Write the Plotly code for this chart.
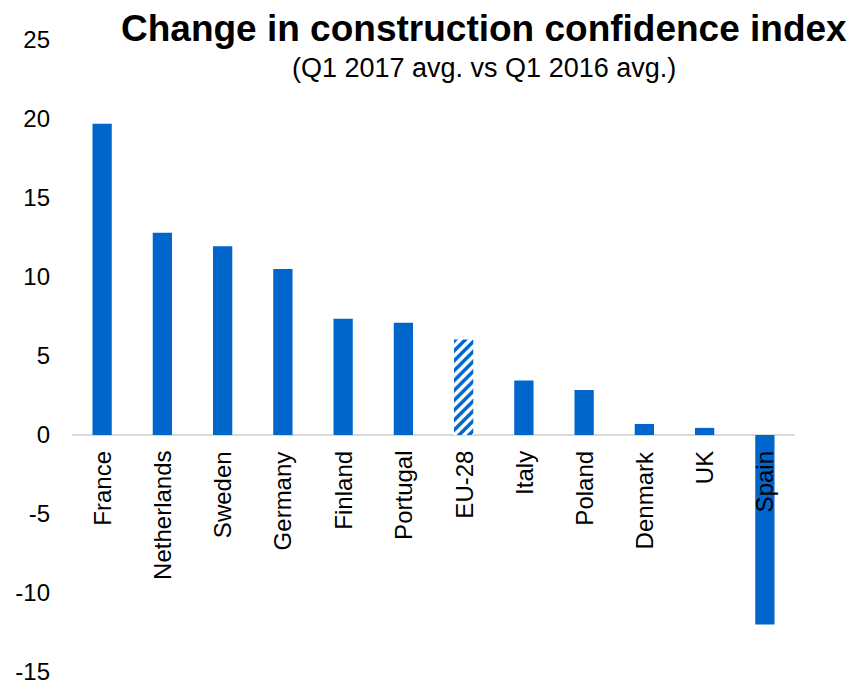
import plotly.graph_objects as go

categories = ["France", "Netherlands", "Sweden", "Germany", "Finland", "Portugal",
              "EU-28", "Italy", "Poland", "Denmark", "UK", "Spain"]
values = [19.7, 12.8, 11.95, 10.5, 7.35, 7.1, 6.05, 3.45, 2.85, 0.7, 0.45, -12.0]
hatched = ["EU-28"]
y_ticks = [-15, -10, -5, 0, 5, 10, 15, 20, 25]
y_tick_labels = ["-15", "-10", "-5", "0", "5", "10", "15", "20", "25"]

BLUE = "#0066CC"
FONT = "Liberation Sans, Arial, sans-serif"

shapes = ["/" if c in hatched else "" for c in categories]
bgcols = ["white" if c in hatched else BLUE for c in categories]

fig = go.Figure()
fig.add_trace(go.Bar(
    x=categories, y=values,
    marker=dict(color=BLUE, line=dict(width=0),
                pattern=dict(shape=shapes, fgcolor=BLUE, bgcolor=bgcols,
                             size=7, solidity=0.5, fillmode="replace")),
    width=0.32,
))

for c in categories:
    fig.add_annotation(x=c, y=0, xref="x", yref="y", text=c, textangle=-90,
                       showarrow=False, xanchor="center", yanchor="top",
                       yshift=-14, font=dict(family=FONT, size=24, color="black"))

fig.add_annotation(x=0.57, y=1.0, xref="paper", yref="paper", yshift=12,
                   text="<b>Change in construction confidence index</b>",
                   showarrow=False, xanchor="center", yanchor="middle",
                   font=dict(family=FONT, size=37, color="black"))
fig.add_annotation(x=0.57, y=1.0, xref="paper", yref="paper", yshift=-28,
                   text="(Q1 2017 avg. vs Q1 2016 avg.)",
                   showarrow=False, xanchor="center", yanchor="middle",
                   font=dict(family=FONT, size=27, color="black"))

fig.update_layout(
    width=868, height=687,
    margin=dict(l=72, r=73, t=40, b=15),
    plot_bgcolor="white", paper_bgcolor="white",
    showlegend=False,
    font=dict(family=FONT, size=24, color="black"),
    xaxis=dict(showticklabels=False, showline=False, showgrid=False, ticks="",
               zeroline=False, automargin=False),
    yaxis=dict(range=[-15, 25], tickvals=y_ticks, ticktext=y_tick_labels,
               showgrid=False, showline=False, automargin=False,
               ticklabeloverflow="allow",
               zeroline=True, zerolinecolor="#D9D9D9", zerolinewidth=2,
               ticks="", ticklabelstandoff=21,
               tickfont=dict(family=FONT, size=24, color="black")),
)

fig.write_html("out.html")
